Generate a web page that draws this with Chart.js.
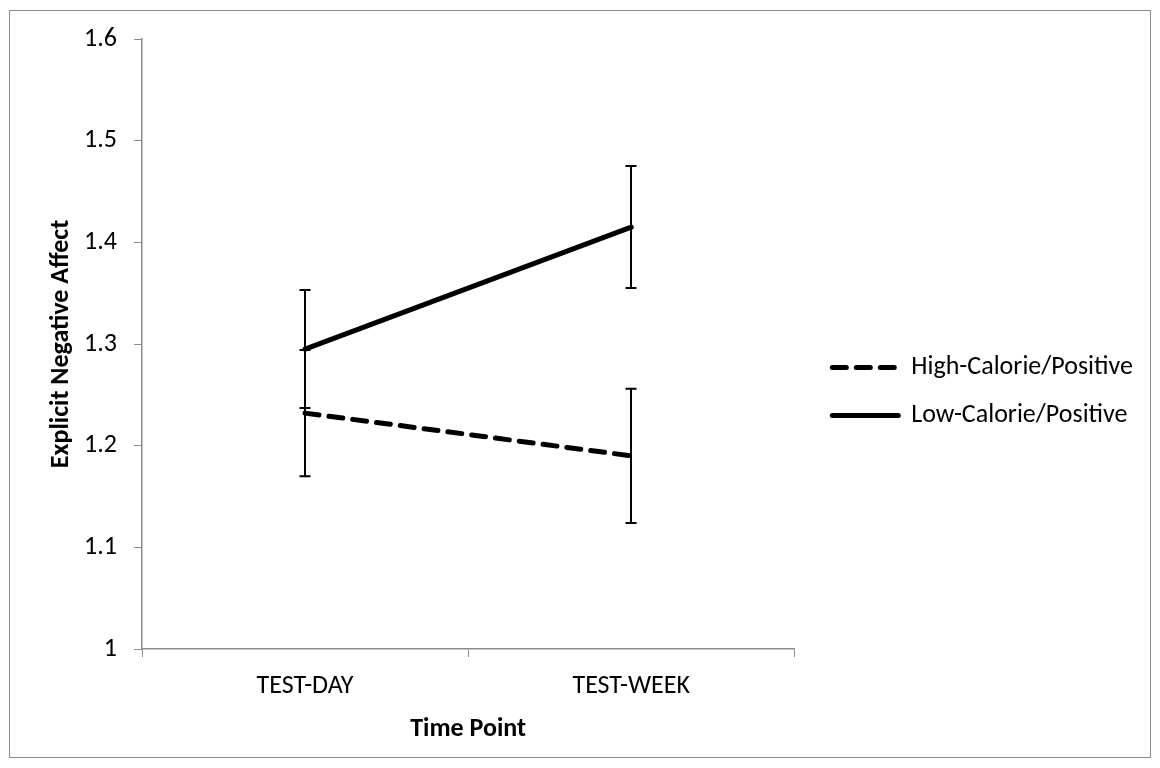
<!DOCTYPE html>
<html>
<head>
<meta charset="utf-8">
<script src="https://cdn.jsdelivr.net/npm/chart.js@4.4.1/dist/chart.umd.min.js"></script>
<style>
  html, body { margin: 0; padding: 0; background: #ffffff; }
  #wrap { position: relative; width: 1160px; height: 768px; }
</style>
</head>
<body>
<div id="wrap"><canvas id="chart" width="1160" height="768"></canvas></div>
<script>
// Time points on the x axis
const timePoints = ['TEST-DAY', 'TEST-WEEK'];

// Mean explicit negative affect per condition
const highCalorieMeans = [1.232, 1.190];
const lowCalorieMeans = [1.295, 1.415];

// Error bar half-lengths per condition
const highCalorieErrors = [0.062, 0.066];
const lowCalorieErrors = [0.058, 0.060];

// Series names
const seriesNames = ['High-Calorie/Positive', 'Low-Calorie/Positive'];

// Y axis tick values
const yTicks = [1, 1.1, 1.2, 1.3, 1.4, 1.5, 1.6];

const FONT = "Carlito, Lato, 'Liberation Sans', sans-serif";
const FONT_SIZE = 26;
const AXIS_GREY = '#8c8c8c';

// Vertical error bars with caps, drawn through the chart's scales
const errorBars = {
  id: 'errorBars',
  beforeDatasetsDraw(chart) {
    const { ctx, scales: { x, y } } = chart;
    ctx.save();
    ctx.strokeStyle = '#000000';
    ctx.lineWidth = 2;
    ctx.lineCap = 'butt';
    chart.data.datasets.forEach((ds) => {
      ds.data.forEach((v, i) => {
        const e = ds.errors[i];
        const px = Math.round(x.getPixelForValue(i));
        const top = y.getPixelForValue(v + e);
        const bot = y.getPixelForValue(v - e);
        const cap = 5.5;
        ctx.beginPath();
        ctx.moveTo(px, top); ctx.lineTo(px, bot);
        ctx.moveTo(px - cap, top); ctx.lineTo(px + cap, top);
        ctx.moveTo(px - cap, bot); ctx.lineTo(px + cap, bot);
        ctx.stroke();
      });
    });
    ctx.restore();
  }
};

// Thin grey frame around the whole figure
const frame = {
  id: 'frame',
  afterDraw(chart) {
    const { ctx } = chart;
    ctx.save();
    ctx.strokeStyle = AXIS_GREY;
    ctx.lineWidth = 1;
    ctx.strokeRect(9.5, 10.5, 1141, 747);
    ctx.restore();
  }
};

// Nudge the legend block within the right-hand margin
const legendShift = {
  id: 'legendShift',
  afterLayout(chart) {
    const lg = chart.legend;
    if (!lg) return;
    const dx = 16, dy = -2;
    lg.left += dx; lg.right += dx;
    lg.top += dy; lg.bottom += dy;
  }
};

new Chart(document.getElementById('chart'), {
  type: 'line',
  data: {
    labels: timePoints,
    datasets: [
      {
        label: seriesNames[0],
        data: highCalorieMeans,
        errors: highCalorieErrors,
        borderColor: '#000000',
        backgroundColor: '#000000',
        borderWidth: 5,
        borderDash: [14, 10],
        borderCapStyle: 'round',
        pointRadius: 0,
        tension: 0,
        fill: false
      },
      {
        label: seriesNames[1],
        data: lowCalorieMeans,
        errors: lowCalorieErrors,
        borderColor: '#000000',
        backgroundColor: '#000000',
        borderWidth: 5,
        borderCapStyle: 'round',
        pointRadius: 0,
        tension: 0,
        fill: false
      }
    ]
  },
  options: {
    responsive: false,
    animation: false,
    devicePixelRatio: 1,
    layout: { padding: { top: 39, left: 20, right: 33, bottom: 20 } },
    plugins: {
      legend: {
        position: 'right',
        align: 'center',
        maxWidth: 420,
        labels: {
          usePointStyle: true,
          pointStyle: 'line',
          pointStyleWidth: 66,
          boxHeight: FONT_SIZE,
          padding: 22,
          color: '#000000',
          font: { family: FONT, size: FONT_SIZE },
          generateLabels(chart) {
            const items = Chart.defaults.plugins.legend.labels.generateLabels(chart);
            items.forEach((item) => {
              const ds = chart.data.datasets[item.datasetIndex];
              item.lineDash = ds.borderDash || [];
              item.lineWidth = ds.borderWidth;
              item.lineCap = ds.borderCapStyle;
              item.strokeStyle = ds.borderColor;
              item.fillStyle = ds.borderColor;
              item.pointStyle = 'line';
            });
            return items;
          }
        }
      },
      tooltip: { enabled: false }
    },
    scales: {
      x: {
        type: 'category',
        offset: true,
        grid: {
          offset: true,
          drawOnChartArea: false,
          drawTicks: true,
          tickLength: 8,
          color: AXIS_GREY,
          tickColor: AXIS_GREY
        },
        border: { color: AXIS_GREY, width: 1.5 },
        ticks: {
          color: '#000000',
          padding: 14,
          font: { family: FONT, size: FONT_SIZE }
        },
        title: {
          display: true,
          text: 'Time Point',
          color: '#000000',
          font: { family: FONT, size: FONT_SIZE, weight: 'bold' },
          padding: { top: 0, bottom: 3 }
        },
        afterFit(scale) { scale.height = 99; }
      },
      y: {
        min: 1,
        max: 1.6,
        afterBuildTicks(scale) { scale.ticks = yTicks.map(v => ({ value: v })); },
        grid: {
          drawOnChartArea: false,
          drawTicks: true,
          tickLength: 8,
          color: AXIS_GREY,
          tickColor: AXIS_GREY
        },
        border: { color: AXIS_GREY, width: 1.5 },
        ticks: {
          color: '#000000',
          padding: 17,
          font: { family: FONT, size: FONT_SIZE },
          callback: (v) => String(Math.round(v * 10) / 10)
        },
        title: {
          display: true,
          text: 'Explicit Negative Affect',
          color: '#000000',
          font: { family: FONT, size: FONT_SIZE, weight: 'bold' },
          padding: { top: 26, bottom: 0 }
        },
        afterFit(scale) { scale.width = 122; }
      }
    }
  },
  plugins: [errorBars, frame, legendShift]
});
</script>
</body>
</html>
